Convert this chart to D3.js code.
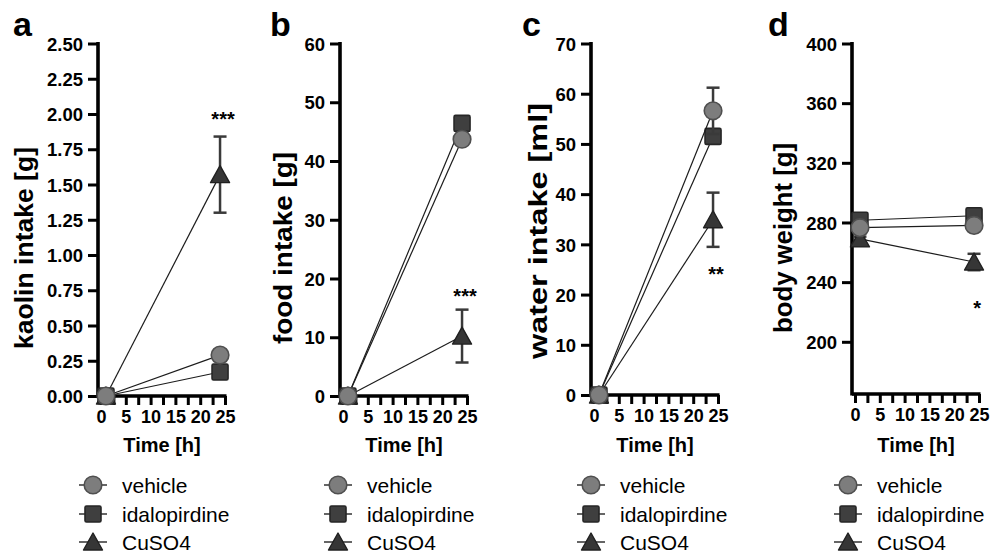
<!DOCTYPE html>
<html>
<head>
<meta charset="utf-8">
<script src="https://cdn.jsdelivr.net/npm/d3@7"></script>
<style>
  body { margin: 0; background: #fff; }
  svg { display: block; }
  text { font-family: "Liberation Sans", Arial, Helvetica, sans-serif; fill: #000; }
</style>
</head>
<body>
<svg id="chart" width="1001" height="554"></svg>
<script>
// time points and groups
const times = [1, 24];
const groups = ['vehicle', 'idalopirdine', 'CuSO4'];
const xTicks = [0, 2.5, 5, 7.5, 10, 12.5, 15, 17.5, 20, 22.5, 25];
const xLabels = [0, 5, 10, 15, 20, 25];

// a: kaolin intake, rows = vehicle, idalopirdine, CuSO4
const kaolinMean = [[0, 0.29], [0, 0.17], [0, 1.57]];
const kaolinErr = [[0, 0.02], [0, 0.02], [0, 0.27]];
const kaolinTicks = [0, 0.25, 0.5, 0.75, 1, 1.25, 1.5, 1.75, 2, 2.25, 2.5];

// b: food intake
const foodMean = [[0, 43.7], [0, 46.4], [0, 10.2]];
const foodErr = [[0, 0.8], [0, 0.8], [0, 4.5]];
const foodTicks = [0, 10, 20, 30, 40, 50, 60];

// c: water intake
const waterMean = [[0, 56.6], [0, 51.5], [0, 34.9]];
const waterErr = [[0, 4.6], [0, 1.2], [0, 5.4]];
const waterTicks = [0, 10, 20, 30, 40, 50, 60, 70];

// d: body weight
const weightMean = [[276.5, 278], [281.5, 284.5], [269, 253.5]];
const weightErr = [[1.5, 2], [1.5, 2], [1.5, 5.5]];
const weightTicks = [200, 240, 280, 320, 360, 400];

// significance marks at 24 h
const stars = ['***', '***', '**', '*'];
const starValues = [2.0, 17.8, 25.0, 225.6];

const svg = d3.select('#chart');

const panels = [
  { letter: 'a', title: 'kaolin intake [g]', mean: kaolinMean, err: kaolinErr, ticks: kaolinTicks,
    fmt: d3.format('.2f'), yMin: 0, axisX: 98, bottom: 396, letterX: 13,
    titleX: 33, titleY: 248, titleLen: 202, legendX: 93 },
  { letter: 'b', title: 'food intake [g]', mean: foodMean, err: foodErr, ticks: foodTicks,
    fmt: d3.format('d'), yMin: 0, axisX: 340, bottom: 396, letterX: 270,
    titleX: 292, titleY: 248, titleLen: 192, legendX: 338 },
  { letter: 'c', title: 'water intake [ml]', mean: waterMean, err: waterErr, ticks: waterTicks,
    fmt: d3.format('d'), yMin: 0, axisX: 591, bottom: 395, letterX: 522,
    titleX: 547, titleY: 231, titleLen: 256, legendX: 591 },
  { letter: 'd', title: 'body weight [g]', mean: weightMean, err: weightErr, ticks: weightTicks,
    fmt: d3.format('d'), yMin: 165, axisX: 852, bottom: 394, letterX: 768,
    titleX: 792, titleY: 238, titleLen: 190, legendX: 848 }
];

const plotTop = 43.5;

// marker styles per group
const markerStyle = [
  { fill: '#7d7d7d', stroke: '#4f4f4f' },
  { fill: '#3f3f3f', stroke: '#262626' },
  { fill: '#363636', stroke: '#202020' }
];

function drawMarker(g, i, cx, cy) {
  const s = markerStyle[i];
  if (i === 0) {
    g.append('circle').attr('cx', cx).attr('cy', cy).attr('r', 8.8)
      .attr('fill', s.fill).attr('stroke', s.stroke).attr('stroke-width', 1.6);
  } else if (i === 1) {
    g.append('rect').attr('x', cx - 8).attr('y', cy - 8).attr('width', 16).attr('height', 16)
      .attr('rx', 1.5).attr('fill', s.fill).attr('stroke', s.stroke).attr('stroke-width', 1.6);
  } else {
    g.append('path').attr('d', `M${cx},${cy - 9}L${cx + 9.5},${cy + 8}L${cx - 9.5},${cy + 8}Z`)
      .attr('fill', s.fill).attr('stroke', s.stroke).attr('stroke-width', 1.4).attr('stroke-linejoin', 'round');
  }
}

panels.forEach((p, pi) => {
  const g = svg.append('g');
  const x = d3.scaleLinear().domain([0, 25]).range([p.axisX + 3, p.axisX + 127]);
  const y = d3.scaleLinear().domain([p.yMin, d3.max(p.ticks)]).range([p.bottom, plotTop]);

  // panel letter
  g.append('text').attr('x', p.letterX).attr('y', 36)
    .style('font-size', '34px').style('font-weight', 'bold').text(p.letter);

  // y axis
  const yAxis = g.append('g').attr('transform', `translate(${p.axisX},0)`)
    .call(d3.axisLeft(y).tickValues(p.ticks).tickFormat(p.fmt).tickSize(10).tickSizeOuter(0).tickPadding(5));
  yAxis.select('.domain').remove();
  yAxis.append('line').attr('x1', 0).attr('x2', 0).attr('y1', plotTop - 1.5).attr('y2', p.bottom + 1.5)
    .attr('stroke', '#000').attr('stroke-width', 3.6);
  yAxis.selectAll('.tick line').attr('stroke', '#000').attr('stroke-width', 3);
  yAxis.selectAll('.tick text').style('font-size', '18.5px').style('font-weight', 'bold')
    .attr('fill', '#000').attr('dy', '0.36em');

  // x axis
  const xAxis = g.append('g').attr('transform', `translate(0,${p.bottom})`)
    .call(d3.axisBottom(x).tickValues(xTicks).tickSize(9).tickSizeOuter(0).tickPadding(5)
      .tickFormat(d => xLabels.includes(d) ? d : ''));
  xAxis.select('.domain').remove();
  xAxis.append('line').attr('x1', p.axisX).attr('x2', x(25) + 1.5).attr('y1', 0).attr('y2', 0)
    .attr('stroke', '#000').attr('stroke-width', 3.6);
  xAxis.selectAll('.tick line').attr('stroke', '#000').attr('stroke-width', 3);
  xAxis.selectAll('.tick text').style('font-size', '18px').style('font-weight', 'bold')
    .attr('fill', '#000').attr('y', 27).attr('dy', 0);

  // axis titles
  g.append('text').attr('x', p.axisX + 64).attr('y', 452).attr('text-anchor', 'middle')
    .style('font-size', '20px').style('font-weight', 'bold').text('Time [h]');
  g.append('text').attr('transform', `translate(${p.titleX},${p.titleY}) rotate(-90)`)
    .attr('text-anchor', 'middle').attr('textLength', p.titleLen).attr('lengthAdjust', 'spacingAndGlyphs')
    .style('font-size', '26px').style('font-weight', 'bold').text(p.title);

  // series, drawn back to front so vehicle ends on top
  [2, 1, 0].forEach(i => {
    const pts = times.map((t, k) => ({ t, v: p.mean[i][k], e: p.err[i][k] }));
    g.append('path').datum(pts)
      .attr('d', d3.line().x(d => x(d.t)).y(d => y(d.v)))
      .attr('fill', 'none').attr('stroke', '#1c1c1c').attr('stroke-width', 1.2);
    pts.forEach(d => {
      if (d.e > 0) {
        const xc = x(d.t);
        const eb = g.append('g').attr('stroke', '#3a3a3a').attr('stroke-width', 2.5);
        eb.append('line').attr('x1', xc).attr('x2', xc).attr('y1', y(d.v - d.e)).attr('y2', y(d.v + d.e));
        eb.append('line').attr('x1', xc - 6.5).attr('x2', xc + 6.5).attr('y1', y(d.v + d.e)).attr('y2', y(d.v + d.e));
        eb.append('line').attr('x1', xc - 6.5).attr('x2', xc + 6.5).attr('y1', y(d.v - d.e)).attr('y2', y(d.v - d.e));
      }
    });
    pts.forEach(d => drawMarker(g, i, x(d.t), y(d.v)));
  });

  // significance stars (value = glyph centre)
  g.append('text').attr('x', x(24) + 3).attr('y', y(starValues[pi]) + 11.5)
    .attr('text-anchor', 'middle').style('font-size', '20px').style('font-weight', 'bold')
    .text(stars[pi]);

  // legend
  const rowY = [485, 514, 542];
  groups.forEach((name, i) => {
    const lg = g.append('g');
    lg.append('line').attr('x1', p.legendX - 14).attr('x2', p.legendX + 14)
      .attr('y1', rowY[i]).attr('y2', rowY[i]).attr('stroke', '#333').attr('stroke-width', 1.5);
    drawMarker(lg, i, p.legendX, rowY[i]);
    lg.append('text').attr('x', p.legendX + 29).attr('y', rowY[i] + 7.5)
      .style('font-size', '21px').text(name);
  });
});
</script>
</body>
</html>
